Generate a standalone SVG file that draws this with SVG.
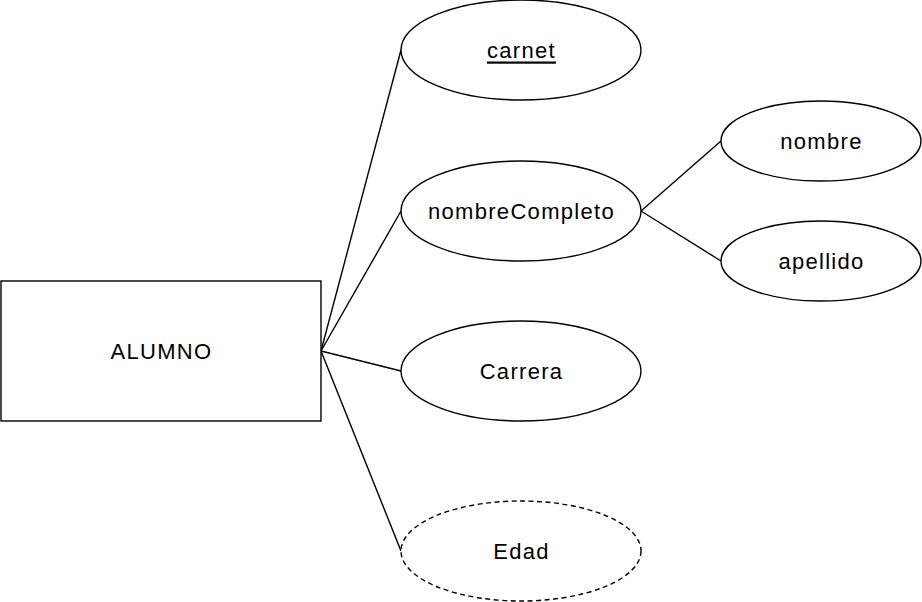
<svg xmlns="http://www.w3.org/2000/svg" width="922" height="602" viewBox="0 0 922 602">
<style>
.s{fill:#fff;stroke:#000;stroke-width:1.4}
.d{stroke-dasharray:5 3.5}
.c{fill:none;stroke:#000;stroke-width:1.4}
text{font-family:"Liberation Sans",Arial,sans-serif;font-size:22px;letter-spacing:1.3px;fill:#000;text-anchor:middle;dominant-baseline:central}
</style>
<rect width="922" height="602" fill="#fff"/>
<g id="connectors">
<path class="c" d="M321 351L401 50"/>
<path class="c" d="M321 351L401 211"/>
<path class="c" d="M321 351L401 371"/>
<path class="c" d="M321 351L401 551"/>
<path class="c" d="M641 211L721 141"/>
<path class="c" d="M641 211L721 261"/>
</g>
<g id="alumno"><rect class="s" x="1" y="281" width="320" height="140"/><text x="161.5" y="351">ALUMNO</text></g>
<g id="carnet"><ellipse class="s" cx="521" cy="50" rx="120" ry="50"/><text x="521.5" y="50" text-decoration="underline">carnet</text></g>
<g id="nombreCompleto"><ellipse class="s" cx="521" cy="211" rx="120" ry="50"/><text x="521.5" y="211">nombreCompleto</text></g>
<g id="carrera"><ellipse class="s" cx="521" cy="371" rx="120" ry="50"/><text x="521.5" y="371">Carrera</text></g>
<g id="edad"><ellipse class="s d" cx="521" cy="551" rx="120" ry="50"/><text x="521.5" y="551">Edad</text></g>
<g id="nombre"><ellipse class="s" cx="821" cy="141" rx="100" ry="40"/><text x="821.5" y="141">nombre</text></g>
<g id="apellido"><ellipse class="s" cx="821" cy="261" rx="100" ry="40"/><text x="821.5" y="261">apellido</text></g>
</svg>
